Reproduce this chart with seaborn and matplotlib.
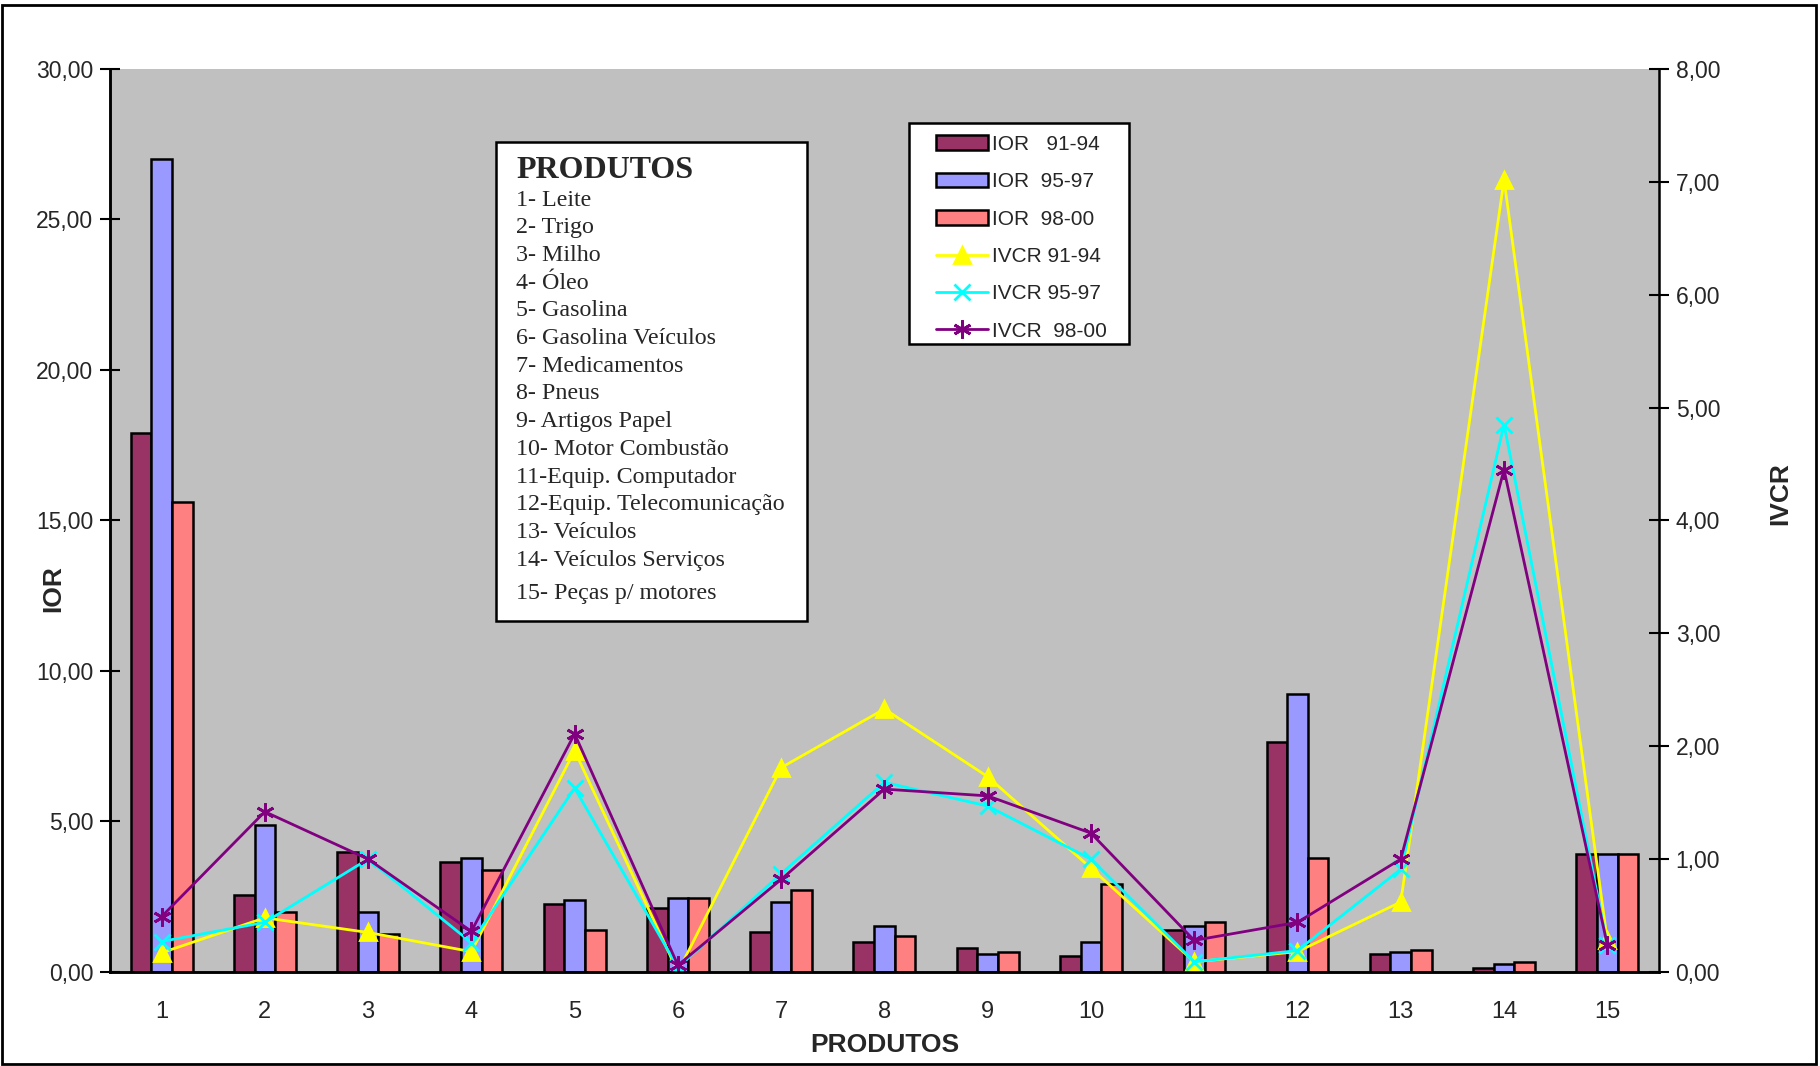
import numpy as np
import pandas as pd
import matplotlib
matplotlib.use("Agg")
import matplotlib.pyplot as plt
import seaborn as sns
from matplotlib.patches import Rectangle

# ---- data ----
produtos = list(range(1, 16))
periodos = ["91-94", "95-97", "98-00"]

ior_91_94 = [17.9, 2.55, 4.0, 3.65, 2.27, 2.14, 1.34, 1.0, 0.81, 0.54, 1.39, 7.65, 0.61, 0.14, 3.93]
ior_95_97 = [27.0, 4.87, 2.0, 3.8, 2.4, 2.47, 2.34, 1.54, 0.61, 1.0, 1.53, 9.25, 0.67, 0.28, 3.93]
ior_98_00 = [15.6, 2.0, 1.27, 3.39, 1.4, 2.47, 2.73, 1.21, 0.67, 2.93, 1.67, 3.8, 0.74, 0.34, 3.93]

ivcr_91_94 = [0.17, 0.48, 0.35, 0.18, 1.96, 0.0, 1.81, 2.33, 1.73, 0.92, 0.09, 0.18, 0.62, 7.02, 0.28]
ivcr_95_97 = [0.27, 0.44, 1.0, 0.26, 1.63, 0.04, 0.87, 1.68, 1.47, 1.0, 0.09, 0.19, 0.91, 4.85, 0.24]
ivcr_98_00 = [0.49, 1.42, 1.0, 0.36, 2.11, 0.06, 0.82, 1.62, 1.56, 1.23, 0.28, 0.44, 1.0, 4.45, 0.24]

ior_labels = ["IOR   91-94", "IOR  95-97", "IOR  98-00"]
ivcr_labels = ["IVCR 91-94", "IVCR 95-97", "IVCR  98-00"]

legenda_titulo = "PRODUTOS"
legenda_itens = [
    "1- Leite", "2- Trigo", "3- Milho", "4- Óleo", "5- Gasolina",
    "6- Gasolina Veículos", "7- Medicamentos", "8- Pneus", "9- Artigos Papel",
    "10- Motor Combustão", "11-Equip. Computador", "12-Equip. Telecomunicação",
    "13- Veículos", "14- Veículos Serviços", "15- Peças p/ motores",
]

bar_colors = ["#993366", "#9999FF", "#FF8080"]
line_colors = ["#FFFF00", "#00FFFF", "#800080"]
line_markers = ["^", "x", (6, 2, 0)]
marker_sizes = [11, 12, 13]

# ---- build long table for seaborn ----
df_ior = pd.DataFrame({
    "produto": produtos * 3,
    "periodo": np.repeat(periodos, len(produtos)),
    "IOR": ior_91_94 + ior_95_97 + ior_98_00,
})

sns.set_style("white")
plt.rcParams["font.family"] = ["Liberation Sans", "DejaVu Sans"]

fig = plt.figure(figsize=(18.2, 10.66), dpi=100)
ax = fig.add_axes([0.0604, 0.0882, 0.8511, 0.8471])
ax.set_facecolor("#C0C0C0")

sns.barplot(data=df_ior, x="produto", y="IOR", hue="periodo", palette=bar_colors,
            saturation=1, width=0.6, edgecolor="black", linewidth=1.8, ax=ax, legend=True)

ax2 = ax.twinx()
x_pos = np.arange(len(produtos))
for vals, col, mk, ms, lab in zip([ivcr_91_94, ivcr_95_97, ivcr_98_00], line_colors,
                                  line_markers, marker_sizes, ivcr_labels):
    sns.lineplot(x=x_pos, y=vals, ax=ax2, color=col, linewidth=2, marker=mk,
                 markersize=ms, markeredgecolor=col, markerfacecolor=col,
                 markeredgewidth=2, label=lab, legend=False)

# axes limits / ticks
ax.set_xlim(-0.5, len(produtos) - 0.5)
ax.set_ylim(0, 30)
ax2.set_ylim(0, 8)
ax.set_yticks(np.arange(0, 31, 5))
ax.set_yticklabels([f"{v:.2f}".replace(".", ",") for v in np.arange(0, 31, 5)])
ax2.set_yticks(np.arange(0, 9, 1))
ax2.set_yticklabels([f"{v:.2f}".replace(".", ",") for v in np.arange(0, 9, 1)])

ax.set_xticks(x_pos)
ax.set_xticklabels([str(p) for p in produtos])
ax.set_xticks(np.arange(-0.5, len(produtos), 1), minor=True)
ax.tick_params(axis="x", which="major", length=0, labelsize=17, pad=21)
ax.tick_params(axis="x", which="minor", length=14, width=1.5, direction="inout", color="black")
ax.tick_params(axis="y", length=14, width=1.5, direction="inout", labelsize=16.5,
               color="black", left=True, pad=5)
ax2.tick_params(axis="y", length=14, width=1.5, direction="inout", labelsize=16.5,
                color="black", right=True, pad=5)

for a in (ax, ax2):
    a.spines["top"].set_visible(False)
    for s in ("left", "right", "bottom"):
        a.spines[s].set_color("black")
        a.spines[s].set_linewidth(1.8)
ax.spines["right"].set_visible(False)
ax.grid(False)
ax2.grid(False)

ax.set_xlabel("PRODUTOS", fontsize=19, fontweight="bold", labelpad=7)
ax.set_ylabel("IOR", fontsize=19, fontweight="bold")
ax.yaxis.set_label_coords(-0.029, 0.425)
ax2.set_ylabel("IVCR", fontsize=19, fontweight="bold")
ax2.yaxis.set_label_coords(1.0704, 0.53)

# combined legend, drawn inside a plain white box
h1, _ = ax.get_legend_handles_labels()
h2, _ = ax2.get_legend_handles_labels()
ax.get_legend().remove()
ax2.add_patch(Rectangle((0.516, 0.695), 0.142, 0.245, transform=ax2.transAxes,
                        facecolor="white", edgecolor="black", linewidth=1.8,
                        zorder=4.9, clip_on=False))
leg = ax2.legend(h1 + h2, ior_labels + ivcr_labels, loc="upper left",
                 bbox_to_anchor=(0.533, 0.927), borderaxespad=0, fontsize=15,
                 frameon=False, handlelength=2.5, labelspacing=0.88,
                 borderpad=0, handletextpad=0.2)

# product key box
fig.patches.append(Rectangle((496 / 1820, 1 - 621 / 1066), 311 / 1820, 479 / 1066,
                             transform=fig.transFigure, facecolor="white",
                             edgecolor="black", linewidth=1.8, zorder=5))
serif = ["Liberation Serif", "DejaVu Serif"]
fig.text(516 / 1820, 1 - 170 / 1066, legenda_titulo, family=serif, fontsize=23,
         fontweight="bold", va="center", zorder=6)
for i, item in enumerate(legenda_itens):
    y = 200 + i * 27.7 + (6 if i == 14 else 0)
    fig.text(516 / 1820, 1 - y / 1066, item, family=serif, fontsize=17.3,
             va="center", zorder=6)

# outer border
fig.patches.append(Rectangle((0.001, 0.002), 0.997, 0.993, transform=fig.transFigure,
                             fill=False, edgecolor="black", linewidth=2))

fig.savefig("out.png", dpi=100)
